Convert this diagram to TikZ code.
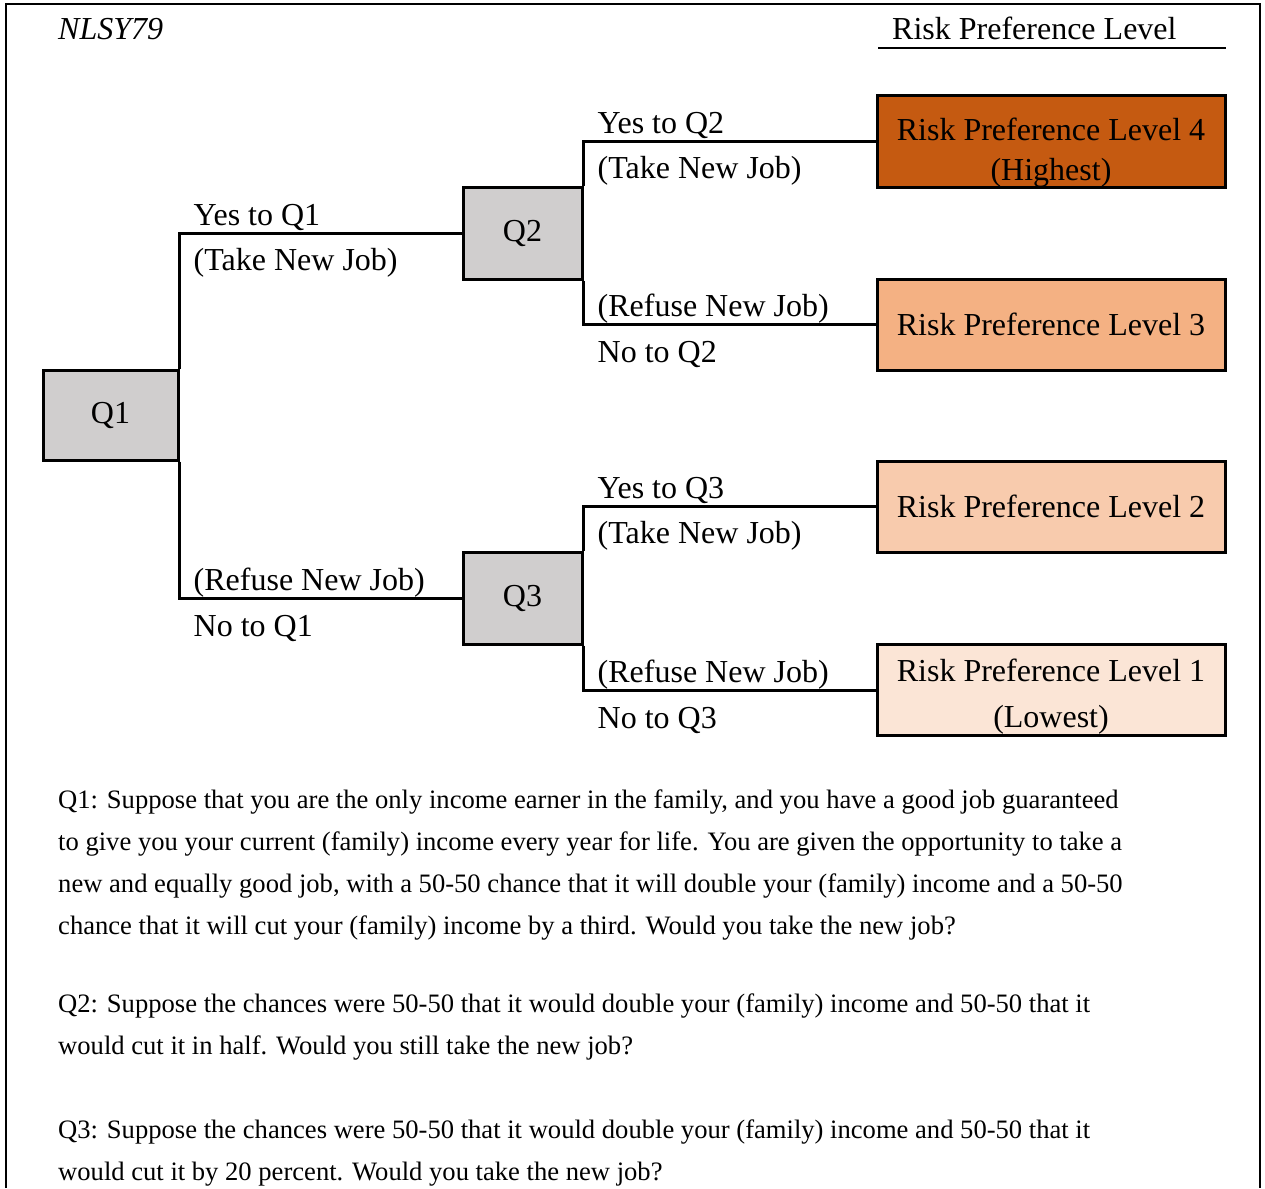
\documentclass[tikz,border=0pt]{standalone}
\usepackage{fontspec}
\setmainfont{Liberation Serif}
\usetikzlibrary{positioning}

\definecolor{qgray}{HTML}{D0CECE}
\definecolor{lvfour}{HTML}{C55A11}
\definecolor{lvthree}{HTML}{F4B183}
\definecolor{lvtwo}{HTML}{F8CBAD}
\definecolor{lvone}{HTML}{FBE5D6}

\begin{document}
\begin{tikzpicture}[x=1pt,y=-1pt,
  big/.style={font=\fontsize{32}{38}\selectfont},
  qbox/.style={big,draw,line width=3pt,fill=qgray,minimum width=119pt,minimum height=92pt,inner sep=0pt},
  lvbox/.style={big,draw,line width=3pt,minimum width=348pt,minimum height=91pt,inner sep=0pt,align=center},
  lbl/.style={big,anchor=base west,inner sep=0pt},
  link/.style={line width=3pt},
  body/.style={font=\fontsize{26.6}{42}\selectfont,anchor=base west,align=left,inner sep=0pt}]
\useasboundingbox (0,0) rectangle (1265,1188);
\draw[line width=2.5pt] (6,1188) -- (6,4) -- (1260,4) -- (1260,1188);

\node[lbl,font=\itshape\fontsize{32}{38}\selectfont] (title) at (58,40) {NLSY79};
\node[lbl] (head) at (892,40) {Risk Preference Level};
\draw[line width=2.5pt] (878,48) -- (1226,48);

% question boxes
\node[qbox,minimum width=135pt,minimum height=90pt] (q1) at (110.5,415) {Q1};
\node[qbox] (q2) at (522.5,233) {Q2};
\node[qbox] (q3) at (522.5,598) {Q3};

% risk levels
\node[lvbox,fill=lvfour,text depth=0pt,text height=77pt] (lv4) at (1051,141.5) {Risk Preference Level 4\\[2pt](Highest)};
\node[lvbox,fill=lvthree] (lv3) at (1051,324.5) {Risk Preference Level 3};
\node[lvbox,fill=lvtwo] (lv2) at (1051,506.5) {Risk Preference Level 2};
\node[lvbox,fill=lvone,text depth=0pt,text height=74pt] (lv1) at (1051,690) {Risk Preference Level 1\\[8pt](Lowest)};

% branches
\draw[link] (q1.north east) |- (q2.west) coordinate[pos=0.5] (yq1);
\draw[link] (q1.south east) |- (q3.west) coordinate[pos=0.5] (nq1);
\draw[link] (q2.north east) |- (lv4.west) coordinate[pos=0.5] (yq2);
\draw[link] (q2.south east) |- (lv3.west) coordinate[pos=0.5] (nq2);
\draw[link] (q3.north east) |- (lv2.west) coordinate[pos=0.5] (yq3);
\draw[link] (q3.south east) |- (lv1.west) coordinate[pos=0.5] (nq3);

\node[lbl] at ([shift={(14,-8)}]yq1) {Yes to Q1};
\node[lbl] at ([shift={(14,37)}]yq1) {(Take New Job)};
\node[lbl] at ([shift={(14,-8)}]nq1) {(Refuse New Job)};
\node[lbl] at ([shift={(14,38)}]nq1) {No to Q1};
\node[lbl] at ([shift={(14,-8)}]yq2) {Yes to Q2};
\node[lbl] at ([shift={(14,37)}]yq2) {(Take New Job)};
\node[lbl] at ([shift={(14,-8)}]nq2) {(Refuse New Job)};
\node[lbl] at ([shift={(14,38)}]nq2) {No to Q2};
\node[lbl] at ([shift={(14,-8)}]yq3) {Yes to Q3};
\node[lbl] at ([shift={(14,37)}]yq3) {(Take New Job)};
\node[lbl] at ([shift={(14,-8)}]nq3) {(Refuse New Job)};
\node[lbl] at ([shift={(14,38)}]nq3) {No to Q3};

% question texts
\node[body] (t1) at (58,934) {Q1: Suppose that you are the only income earner in the family, and you have a good job guaranteed\\
to give you your current (family) income every year for life. You are given the opportunity to take a\\
new and equally good job, with a 50-50 chance that it will double your (family) income and a 50-50\\
chance that it will cut your (family) income by a third. Would you take the new job?};
\node[body] (t2) at (58,1054) {Q2: Suppose the chances were 50-50 that it would double your (family) income and 50-50 that it\\
would cut it in half. Would you still take the new job?};
\node[body] (t3) at (58,1180) {Q3: Suppose the chances were 50-50 that it would double your (family) income and 50-50 that it\\
would cut it by 20 percent. Would you take the new job?};
\end{tikzpicture}
\end{document}
